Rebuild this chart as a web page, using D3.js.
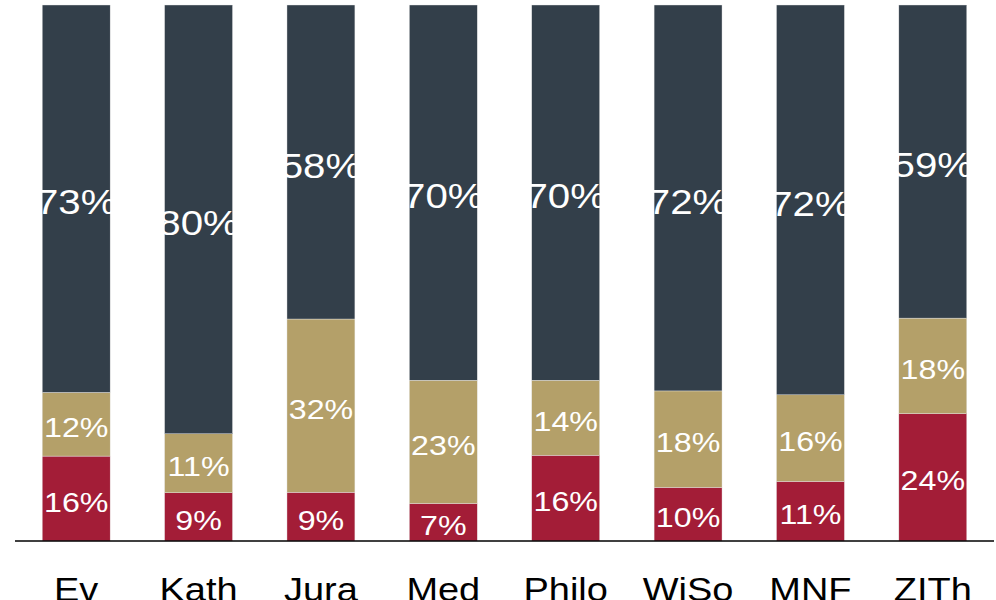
<!DOCTYPE html>
<html>
<head>
<meta charset="utf-8">
<script src="https://cdn.jsdelivr.net/npm/d3@7"></script>
<style>
  body { margin: 0; background: #fff; }
  svg { display: block; font-family: "Liberation Sans", Arial, sans-serif; }
</style>
</head>
<body>
<div class="chart"></div>
<script>
// faculties
const categories = ["Ev", "Kath", "Jura", "Med", "Philo", "WiSo", "MNF", "ZITh"];
// shares in percent, bottom to top
const rot = [16, 9, 9, 7, 16, 10, 11, 24];
const gold = [12, 11, 32, 23, 14, 18, 16, 18];
const grau = [73, 80, 58, 70, 70, 72, 72, 59];

const seriesKeys = ["rot", "gold", "grau"];
const colors = { rot: "#A31D37", gold: "#B4A069", grau: "#333F4A" };

const width = 996, height = 600;
const baseY = 541, topY = 5;

// build rows, each bar normalised to full height
const rows = categories.map((c, i) => {
  const sum = rot[i] + gold[i] + grau[i];
  return { cat: c, rot: rot[i], gold: gold[i], grau: grau[i], sum: sum };
});

const x = d3.scaleBand()
  .domain(categories)
  .range([15, 994])
  .paddingInner(0.445)
  .paddingOuter(0.2225);

const y = d3.scaleLinear().domain([0, 1]).range([baseY, topY]);

const stack = d3.stack()
  .keys(seriesKeys)
  .value((d, k) => d[k] / d.sum);

const stacked = stack(rows);

const svg = d3.select(".chart")
  .append("svg")
  .attr("width", width)
  .attr("height", height);

const layer = svg.selectAll(".layer")
  .data(stacked)
  .enter()
  .append("g")
  .attr("class", "layer")
  .attr("fill", d => colors[d.key]);

layer.selectAll("rect")
  .data(d => d)
  .enter()
  .append("rect")
  .attr("x", d => x(d.data.cat))
  .attr("y", d => y(d[1]))
  .attr("width", x.bandwidth())
  .attr("height", d => y(d[0]) - y(d[1]))
  .attr("stroke", "#e8e8e8")
  .attr("stroke-width", 0.4);

// percent labels
const sx = 1.15;
stacked.forEach(s => {
  const fs = s.key === "grau" ? 35 : 28;
  svg.append("g").selectAll("text")
    .data(s)
    .enter()
    .append("text")
    .attr("transform", d => {
      const cx = x(d.data.cat) + x.bandwidth() / 2;
      const cy = (y(d[0]) + y(d[1])) / 2 + fs * 0.36 + 3;
      return "translate(" + cx + "," + cy + ") scale(" + sx + ",1)";
    })
    .attr("text-anchor", "middle")
    .attr("fill", "#fff")
    .style("font-size", fs + "px")
    .text(d => d.data[s.key] + "%");
});

// baseline
svg.append("line")
  .attr("x1", 15)
  .attr("x2", 994)
  .attr("y1", baseY)
  .attr("y2", baseY)
  .attr("stroke", "#000")
  .attr("stroke-width", 1.5);

// category labels
const xAxis = d3.axisBottom(x).tickSize(0).tickPadding(0);
const ax = svg.append("g")
  .attr("transform", "translate(0," + baseY + ")")
  .call(xAxis);
ax.select(".domain").remove();
ax.selectAll("text")
  .attr("y", 0)
  .attr("dy", 0)
  .attr("fill", "#000")
  .style("font-size", "33px")
  .style("font-family", "'Liberation Sans', Arial, sans-serif")
  .attr("transform", "translate(0,60) scale(" + sx + ",1)");
</script>
</body>
</html>
